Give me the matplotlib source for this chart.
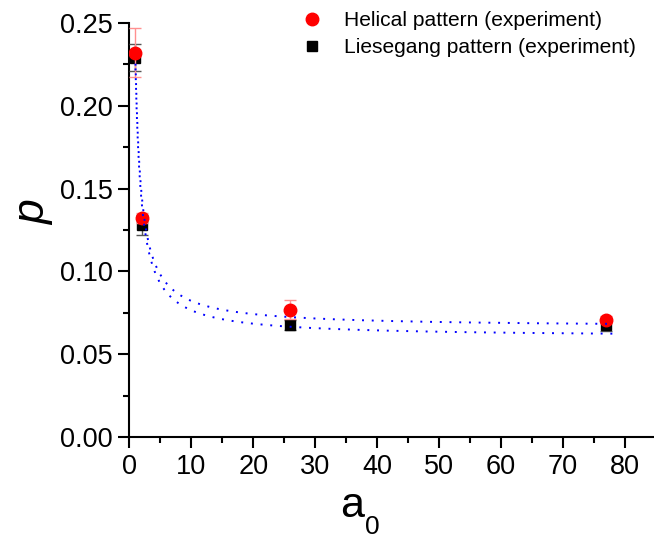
import numpy as np
import matplotlib
matplotlib.use("Agg")
import matplotlib.pyplot as plt
from matplotlib.lines import Line2D

plt.rcParams['font.family'] = ['Liberation Sans', 'DejaVu Sans']

# initial concentration a0 and measured spacing coefficient p
a0 = np.array([1, 2, 26, 77])
p_helical = np.array([0.232, 0.132, 0.077, 0.071])
err_helical = np.array([0.015, 0.003, 0.0056, 0.002])
p_liesegang = np.array([0.229, 0.128, 0.068, 0.068])
err_liesegang = np.array([0.008, 0.006, 0.003, 0.004])

W, H = 654, 538
fig = plt.figure(figsize=(W / 100, H / 100), dpi=100)
ax = fig.add_axes([129.3 / W, (H - 437.3) / H, (W - 129.3) / W, (437.3 - 22.7) / H])

ax.errorbar(a0, p_liesegang, yerr=err_liesegang, fmt='s', color='black', ms=7.5,
            ecolor='#555555', elinewidth=1, capsize=4, capthick=1, zorder=3)
ax.errorbar(a0, p_helical, yerr=err_helical, fmt='o', color='#ff0000', ms=9,
            ecolor='#ff9090', elinewidth=1, capsize=4, capthick=1, zorder=4)

# least-squares fits p = c + A / a0
x = np.linspace(1, 78, 400)
for p in (p_helical, p_liesegang):
    A, c = np.polyfit(1 / a0, p, 1)
    ax.plot(x, c + A / x, color='#0000ff', lw=1.4, ls=(0, (1, 4)), zorder=5)

ax.set_xlim(0, 84.7)
ax.set_ylim(0, 0.25)
ax.set_xticks(np.arange(0, 81, 10))
ax.set_xticks(np.arange(5, 85, 10), minor=True)
ax.set_yticks(np.arange(0, 0.251, 0.05))
ax.set_yticks(np.arange(0.025, 0.25, 0.05), minor=True)
ax.yaxis.set_major_formatter(matplotlib.ticker.FormatStrFormatter('%.2f'))
for s in ('top', 'right'):
    ax.spines[s].set_visible(False)
for s in ('left', 'bottom'):
    ax.spines[s].set_linewidth(1.5)
ax.tick_params(which='major', direction='out', length=8, width=1.5, labelsize=19.5, pad=4)
ax.tick_params(which='minor', direction='out', length=4, width=1.5)

# axis titles: a with subscript 0, italic p
fig.text(352 / W, 1 - 517 / H, 'a', fontsize=31, ha='center', va='baseline')
fig.text(372.5 / W, 1 - 534 / H, '0', fontsize=19, ha='center', va='baseline')
fig.text(34 / W, 1 - 213 / H, 'p', fontsize=32, style='italic', rotation=90,
         ha='center', va='center')

handles = [
    Line2D([], [], ls='none', marker='o', color='#ff0000', ms=9),
    Line2D([], [], ls='none', marker='s', color='black', ms=7.5),
]
labels = ['Helical pattern (experiment)', 'Liesegang pattern (experiment)']
fig.legend(handles, labels, loc='upper left', bbox_to_anchor=(302 / W, 1 - 11 / H),
           frameon=False, fontsize=15.1, handletextpad=1.0, labelspacing=0.38,
           handlelength=1.0, borderaxespad=0, borderpad=0)

fig.savefig('out.png', dpi=100)
